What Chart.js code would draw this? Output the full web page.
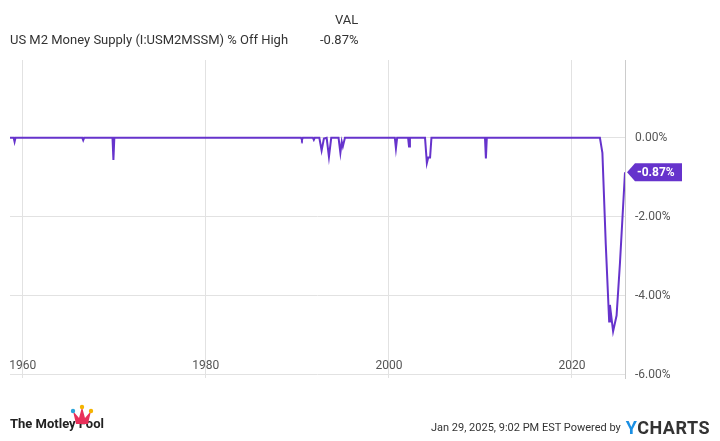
<!DOCTYPE html>
<html><head><meta charset="utf-8">
<script src="https://cdn.jsdelivr.net/npm/chart.js"></script>
<style>
body{margin:0;width:720px;height:441px;background:#fff;font-family:Roboto,sans-serif;overflow:hidden;position:relative}
#c{position:absolute;left:0;top:0}
.t{position:absolute;color:#333;font-size:13px;white-space:nowrap}
</style></head><body>
<canvas id="c" width="720" height="441"></canvas>
<div class="t" style="left:10px;top:32px">US M2 Money Supply (I:USM2MSSM) % Off High</div>
<div class="t" style="left:335px;top:12px">VAL</div>
<div class="t" style="left:320px;top:32px">-0.87%</div>
<div style="position:absolute;left:10px;top:416px;font:bold 13px Roboto;color:#222">The Motley Fool</div>
<div style="position:absolute;left:70px;top:404px;width:24px;height:22px">
<svg width="24" height="22"><path d="M3 7 L9 14 L12 3 L15 14 L21 7 L18 20 L6 20 Z" fill="#e8305a"/><circle cx="12" cy="3" r="2.2" fill="#f4b400"/><circle cx="3" cy="7" r="2.2" fill="#2aa5d9"/><circle cx="21" cy="7" r="2.2" fill="#f4b400"/></svg></div>
<div style="position:absolute;right:10px;top:417px;display:flex;align-items:center;white-space:nowrap">
<span style="font-size:11px;color:#333;margin-right:5px">Jan 29, 2025, 9:02 PM EST Powered by</span>
<span style="font:bold 18px Roboto;color:#333;letter-spacing:0.5px"><span style="color:#1a8fe3">Y</span>CHARTS</span></div>
<script>
// positions on the time axis (decimal years) and % off high
const years = [1958.6, 1959.0, 1959.1, 1959.2, 1966.5, 1966.6, 1966.7, 1969.8, 1969.9, 1970.0,
  1990.4, 1990.5, 1990.6, 1991.7, 1991.8, 1991.9, 1992.4, 1992.65, 1992.9, 1993.2, 1993.45, 1993.7,
  1994.5, 1994.7, 1994.85, 1994.97, 1995.2, 2000.65, 2000.77, 2000.9, 2002.1, 2002.2, 2002.3,
  2003.95, 2004.15, 2004.3, 2004.5, 2004.65, 2010.5, 2010.6, 2010.7,
  2023.06, 2023.33, 2023.7, 2024.07, 2024.15, 2024.5, 2024.88, 2025.25, 2025.8];
const values = [0, 0, -0.1, 0, 0, -0.06, 0, 0, -0.56, 0,
  0, -0.05, 0, 0, -0.05, 0, 0, -0.32, -0.02, 0, -0.48, 0,
  0, -0.38, -0.1, -0.22, 0, 0, -0.27, 0, 0, -0.22, 0,
  0, -0.64, -0.5, -0.5, 0, 0, -0.52, 0,
  0, -0.38, -2.7, -4.65, -4.23, -4.9, -4.5, -3.17, -0.87];
const xTicks = [1960, 1980, 2000, 2020];
const yTicks = [0, -2, -4, -6];
const lastLabel = "-0.87%";
const purple = "#6633cc";

const overlay = {
  id: "overlay",
  afterDraw(ch) {
    const c = ch.ctx, xs = ch.scales.x, ys = ch.scales.y;
    c.save();
    c.font = "12px Roboto"; c.fillStyle = "#555"; c.textAlign = "center"; c.textBaseline = "middle";
    xTicks.forEach(t => c.fillText(String(t), xs.getPixelForValue(t), 366));
    const x = xs.getPixelForValue(years[years.length - 1]) + 2;
    const y = ys.getPixelForValue(values[values.length - 1]);
    c.fillStyle = purple;
    c.beginPath(); c.moveTo(x, y); c.lineTo(x + 8, y - 9); c.lineTo(x + 55, y - 9);
    c.lineTo(x + 55, y + 9); c.lineTo(x + 8, y + 9); c.closePath(); c.fill();
    c.fillStyle = "#fff"; c.font = "bold 12px Roboto"; c.textAlign = "left";
    c.fillText(lastLabel, x + 10, y + 1);
    c.restore();
  }
};

new Chart(document.getElementById("c"), {
  type: "line",
  data: { datasets: [{ data: years.map((x, i) => ({ x, y: values[i] })), borderColor: purple,
    borderWidth: 2, pointRadius: 0, tension: 0 }] },
  options: {
    responsive: false, animation: false,
    layout: { padding: { left: 10, top: 60, bottom: 63, right: 0 } },
    plugins: { legend: { display: false }, tooltip: { enabled: false } },
    scales: {
      x: { type: "linear", min: 1958.6, max: 2025.8, display: true,
        afterBuildTicks: s => { s.ticks = xTicks.map(v => ({ value: v })); },
        ticks: { display: false }, border: { display: false },
        grid: { color: "#e2e2e2", drawTicks: false } },
      y: { position: "right", min: -6.08, max: 1.97,
        afterFit: s => { s.width = 95; },
        afterBuildTicks: s => { s.ticks = yTicks.map(v => ({ value: v })); },
        border: { display: true, color: "#cccccc" },
        ticks: { color: "#555", font: { family: "Roboto", size: 12 }, padding: 10,
          callback: v => v.toFixed(2) + "%" },
        grid: { color: "#e2e2e2", drawTicks: false } }
    }
  },
  plugins: [overlay]
});
</script></body></html>
